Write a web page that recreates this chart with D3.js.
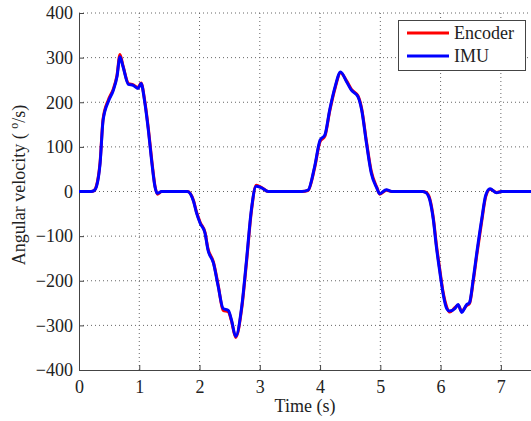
<!DOCTYPE html>
<html>
<head>
<meta charset="utf-8">
<script src="https://cdn.jsdelivr.net/npm/d3@7"></script>
<style>
  html, body { margin: 0; padding: 0; background: #fff; }
  svg { display: block; }
  text { font-family: "Liberation Serif", "Times New Roman", serif; fill: #222; }
</style>
</head>
<body>
<svg id="chart" width="531" height="421"></svg>
<script>
const time = [0, 0.2, 0.25, 0.29, 0.35, 0.40, 0.49, 0.57, 0.63, 0.68, 0.73, 0.82, 0.90, 0.98, 1.03, 1.09, 1.15, 1.21, 1.26, 1.30, 1.37,
  1.65, 1.80, 1.90, 1.95, 2.01, 2.09, 2.14, 2.23, 2.31, 2.39, 2.48, 2.53, 2.60, 2.70, 2.78, 2.86, 2.94, 3.03, 3.14,
  3.70, 3.80, 3.91, 4.00, 4.08, 4.16, 4.25, 4.34, 4.44, 4.52, 4.63, 4.69, 4.77, 4.85, 4.94, 4.99, 5.10, 5.19,
  5.70, 5.76, 5.82, 5.88, 5.93, 5.99, 6.04, 6.10, 6.15, 6.24, 6.29, 6.35, 6.43, 6.48, 6.54, 6.60, 6.68, 6.75, 6.82, 6.93, 7.01, 7.60];

const imu = [0, 0, 2, 11, 63, 160, 203, 227, 257, 302, 280, 240, 238, 231, 242, 201, 138, 63, 11, -4, 0,
  0, 0, -22, -48, -71, -93, -131, -160, -213, -262, -267, -288, -325, -258, -153, -41, 12, 8, 0,
  0, 3, 56, 115, 127, 183, 235, 268, 246, 227, 212, 183, 108, 41, 8, -5, 4, 0,
  0, -3, -19, -64, -124, -183, -228, -262, -268, -262, -253, -271, -254, -249, -198, -138, -64, -8, 6, -3, 0, 0];

const encoder = [0, 0, 2, 13, 66, 163, 206, 230, 260, 307, 282, 242, 239, 233, 243, 204, 142, 67, 13, -6, 0,
  0, 0, -20, -46, -69, -91, -128, -158, -210, -266, -270, -290, -327, -262, -158, -45, 14, 9, 0,
  0, 2, 53, 112, 124, 180, 232, 266, 248, 229, 214, 186, 112, 45, 10, -6, 3, 0,
  0, -2, -16, -60, -119, -178, -224, -258, -270, -260, -255, -268, -256, -251, -203, -143, -69, -11, 5, -2, 0, 0];

const xTicks = [0, 1, 2, 3, 4, 5, 6, 7];
const yTicks = [-400, -300, -200, -100, 0, 100, 200, 300, 400];
const seriesNames = ["Encoder", "IMU"];
const seriesColors = ["#ff0000", "#0000ff"];

const svg = d3.select("#chart");
const x = d3.scaleLinear().domain([0, 7.5]).range([79, 531]);
const y = d3.scaleLinear().domain([-400, 400]).range([370, 13]);

const fmt = v => (v < 0 ? "\u2212" + Math.abs(v) : String(v));

// grid
const grid = svg.append("g");
grid.selectAll("line.gx").data(xTicks.filter(d => d > 0)).join("line")
  .attr("x1", d => x(d)).attr("x2", d => x(d))
  .attr("y1", y(-400)).attr("y2", y(400))
  .attr("stroke", "#666").attr("stroke-width", 1).attr("stroke-dasharray", "1,3");
grid.selectAll("line.gy").data(yTicks.filter(d => d > -400)).join("line")
  .attr("x1", x(0)).attr("x2", 531)
  .attr("y1", d => y(d)).attr("y2", d => y(d))
  .attr("stroke", "#666").attr("stroke-width", 1).attr("stroke-dasharray", "1,3");

// axes
const xAxis = d3.axisBottom(x).tickValues(xTicks).tickSize(-5).tickPadding(10).tickFormat(fmt);
const yAxis = d3.axisLeft(y).tickValues(yTicks).tickSize(-5).tickPadding(6).tickFormat(fmt);

const gx = svg.append("g").attr("transform", `translate(0,${y(-400)})`).call(xAxis);
const gy = svg.append("g").attr("transform", `translate(${x(0)},0)`).call(yAxis);
[gx, gy].forEach(g => {
  g.select(".domain").attr("stroke", "#444");
  g.selectAll(".tick line").attr("stroke", "#444");
  g.selectAll(".tick text").attr("font-size", 18).attr("fill", "#222")
    .attr("font-family", "Liberation Serif, serif");
});

// lines
const makeLine = vals => d3.line().x((d, i) => x(time[i])).y((d, i) => y(vals[i])).curve(d3.curveMonotoneX);
const clip = svg.append("clipPath").attr("id", "clip").append("rect")
  .attr("x", x(0)).attr("y", 0).attr("width", 531 - x(0)).attr("height", y(-400));
const lines = svg.append("g").attr("clip-path", "url(#clip)");
lines.append("path").datum(encoder).attr("d", makeLine(encoder))
  .attr("fill", "none").attr("stroke", seriesColors[0]).attr("stroke-width", 3).attr("stroke-linejoin", "round");
lines.append("path").datum(imu).attr("d", makeLine(imu))
  .attr("fill", "none").attr("stroke", seriesColors[1]).attr("stroke-width", 3).attr("stroke-linejoin", "round");

// legend
const lg = svg.append("g");
lg.append("rect").attr("x", 398.5).attr("y", 20.5).attr("width", 127).attr("height", 50)
  .attr("fill", "#fff").attr("stroke", "#444").attr("stroke-width", 1);
seriesNames.forEach((name, i) => {
  const ly = 33 + i * 23;
  lg.append("line").attr("x1", 407).attr("x2", 449).attr("y1", ly).attr("y2", ly)
    .attr("stroke", seriesColors[i]).attr("stroke-width", 3);
  lg.append("text").attr("x", 454).attr("y", ly + 6).attr("font-size", 18).text(name);
});

// axis titles
svg.append("text").attr("x", 305).attr("y", 412).attr("text-anchor", "middle")
  .attr("font-size", 18).text("Time (s)");
const yl = svg.append("text").attr("transform", "translate(25,185) rotate(-90)")
  .attr("text-anchor", "middle").attr("font-size", 18);
yl.append("tspan").text("Angular velocity ( ");
yl.append("tspan").attr("font-size", 12).attr("dy", -7).text("o");
yl.append("tspan").attr("dy", 7).text("/s)");
</script>
</body>
</html>
